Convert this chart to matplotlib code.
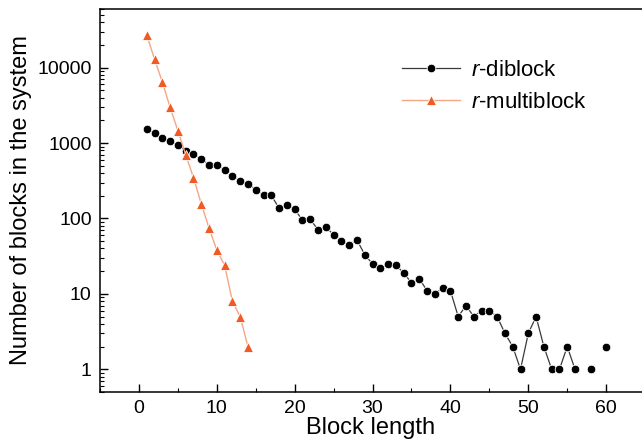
import numpy as np
import matplotlib
matplotlib.use("Agg")
import matplotlib.pyplot as plt
from matplotlib.ticker import LogLocator, NullFormatter, FixedLocator, MultipleLocator

plt.rcParams['font.family'] = ['Liberation Sans', 'DejaVu Sans']
plt.rcParams['mathtext.fontset'] = 'custom'
plt.rcParams['mathtext.it'] = 'Liberation Sans:italic'

# Data
diblock_len = list(range(1, 61))
diblock_count = [1520, 1340, 1170, 1070, 955, 795, 710, 617, 519, 519,
                 442, 371, 319, 291, 242, 204, 202, 137, 149, 132,
                 95, 97, 71, 77, 61, 51, 45, 52, 33, 25,
                 22, 25, 24, 19, 14, 16, 11, 10, 12, 11,
                 5, 7, 5, 6, 6, 5, 3, 2, 1, 3,
                 5, 2, 1, 1, 2, 1, np.nan, 1, np.nan, 2]
multi_len = list(range(1, 15))
multi_count = [27300, 13000, 6470, 2980, 1460, 704, 349, 157, 75, 38, 24, 8, 5, 2]

x_ticks = [0, 10, 20, 30, 40, 50, 60]
y_ticks = [1, 10, 100, 1000, 10000]
y_ticklabels = ['1', '10', '100', '1000', '10000']

fig = plt.figure(figsize=(6.42, 4.47), dpi=100)
ax = fig.add_axes([100/642, 1-392/447, 1-100/642, (392-9)/447])

ax.plot(diblock_len, diblock_count, color='#3a3a3a', lw=0.9, marker='o', ms=6.2,
        mfc='black', mec='white', mew=0.6, label=r'$\it{r}$-diblock', zorder=3)
ax.plot(multi_len, multi_count, color='#f6a585', lw=1.0, marker='^', ms=7,
        mfc='#f05a24', mec='white', mew=0.6, label=r'$\it{r}$-multiblock', zorder=4)

ax.set_yscale('log')
ax.set_xlim(-5, 64.6)
ax.set_ylim(0.5, 60000)

ax.xaxis.set_major_locator(FixedLocator(x_ticks))
ax.xaxis.set_minor_locator(MultipleLocator(5))
ax.set_yticks(y_ticks)
ax.set_yticklabels(y_ticklabels)
ax.yaxis.set_minor_locator(LogLocator(base=10, subs=np.arange(2, 10)))
ax.yaxis.set_minor_formatter(NullFormatter())

ax.tick_params(axis='both', which='major', direction='in', length=6, width=1,
               labelsize=14, top=False, right=False, pad=6)
ax.tick_params(axis='both', which='minor', direction='in', length=3, width=0.8,
               top=False, right=False)
ax.spines['right'].set_visible(False)
for s in ['left', 'bottom', 'top']:
    ax.spines[s].set_linewidth(1.1)

ax.set_xlabel('Block length', fontsize=17, labelpad=0)
ax.set_ylabel('Number of blocks in the system', fontsize=17, labelpad=4)

leg = ax.legend(loc='upper left', bbox_to_anchor=(0.52, 0.92), frameon=False,
                fontsize=16, handlelength=2.6, handletextpad=0.5, labelspacing=0.5)

fig.savefig('out.png', dpi=100)
